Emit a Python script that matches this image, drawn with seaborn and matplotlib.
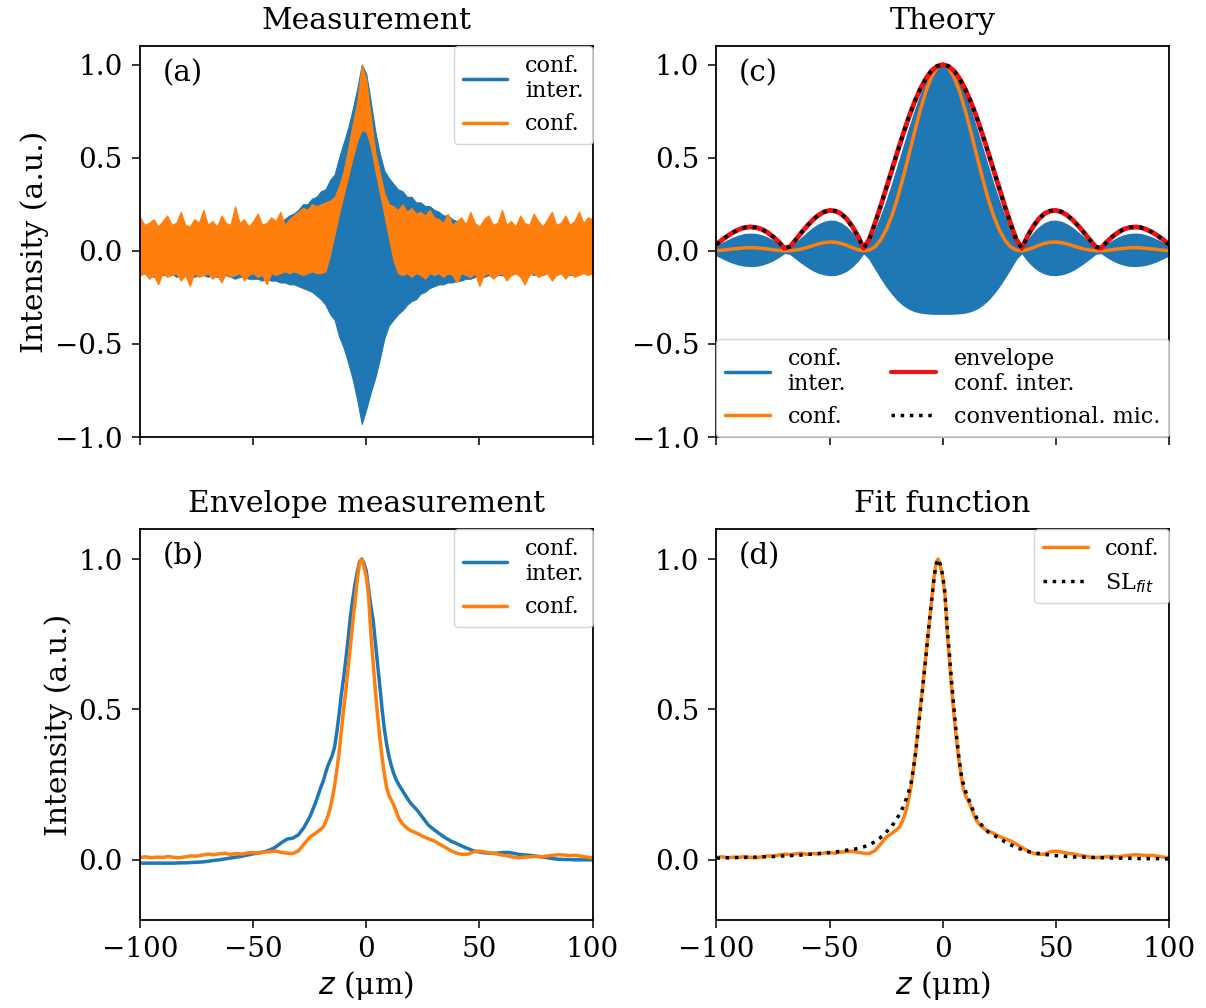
import numpy as np
import matplotlib
matplotlib.use("Agg")
import matplotlib.pyplot as plt
from matplotlib.lines import Line2D
import seaborn as sns

# ---------------- data ----------------
# (a) raw measurement: lower/upper edges of the densely oscillating signals, sampled every 2 um
z_meas = np.arange(-100, 100.1, 2)

conf_meas_upper = [
    0.18, 0.14, 0.15, 0.17, 0.13, 0.16, 0.19, 0.14, 0.15, 0.21, 0.14, 0.13, 0.17, 0.15, 0.22, 0.14, 0.16, 0.13,
    0.19, 0.15, 0.14, 0.24, 0.15, 0.17, 0.13, 0.16, 0.20, 0.14, 0.15, 0.18, 0.16, 0.21, 0.14, 0.17, 0.19,
    0.21, 0.23, 0.22, 0.25, 0.24, 0.25, 0.26, 0.27, 0.29, 0.35, 0.43, 0.55, 0.68, 0.80, 1.00, 0.92, 0.72, 0.53,
    0.42, 0.31, 0.25, 0.24, 0.22, 0.25, 0.21, 0.23, 0.20, 0.21, 0.19, 0.22, 0.18,
    0.17, 0.15, 0.20, 0.14, 0.16, 0.18, 0.14, 0.21, 0.15, 0.13, 0.17, 0.19, 0.14, 0.15, 0.22, 0.14, 0.16, 0.13,
    0.19, 0.15, 0.14, 0.20, 0.16, 0.13, 0.17, 0.21, 0.14, 0.15, 0.19, 0.14, 0.16, 0.21, 0.15, 0.18, 0.17,
]
conf_meas_lower = [
    -0.13, -0.12, -0.15, -0.13, -0.18, -0.12, -0.14, -0.13, -0.12, -0.16, -0.13, -0.19, -0.12, -0.14, -0.13,
    -0.12, -0.15, -0.13, -0.17, -0.12, -0.14, -0.13, -0.12, -0.16, -0.13, -0.12, -0.14, -0.13, -0.18, -0.12,
    -0.13, -0.12, -0.11, -0.12, -0.11,
    -0.12, -0.13, -0.12, -0.11, -0.12, -0.12, -0.11, -0.02, 0.09, 0.20, 0.30, 0.40, 0.50, 0.59, 0.65, 0.64,
    0.56, 0.43, 0.31, 0.19, 0.07, -0.05, -0.12, -0.13, -0.12, -0.14, -0.12, -0.13, -0.15, -0.12, -0.13,
    -0.12, -0.14, -0.12, -0.13, -0.17, -0.12, -0.13, -0.14, -0.12, -0.19, -0.13, -0.12, -0.15, -0.13, -0.12,
    -0.16, -0.13, -0.12, -0.14, -0.18, -0.13, -0.12, -0.14, -0.13, -0.12, -0.16, -0.13, -0.12, -0.15, -0.12,
    -0.14, -0.13, -0.12, -0.13, -0.12,
]
inter_meas_upper = [
    0.12, 0.11, 0.12, 0.13, 0.11, 0.12, 0.12, 0.11, 0.13, 0.12, 0.11, 0.12, 0.12, 0.13, 0.11, 0.12, 0.12, 0.11,
    0.12, 0.13, 0.12, 0.11, 0.12, 0.12, 0.13, 0.12, 0.13, 0.14, 0.13, 0.14,
    0.15, 0.16, 0.17, 0.19, 0.20, 0.22, 0.25, 0.25, 0.28, 0.29, 0.32, 0.33, 0.38, 0.41, 0.50, 0.58, 0.66, 0.76,
    0.87, 1.00, 0.95, 0.80, 0.64, 0.52, 0.43, 0.39, 0.36, 0.33, 0.32, 0.29, 0.29, 0.26, 0.26, 0.24, 0.24, 0.22,
    0.21, 0.19, 0.19, 0.17, 0.16,
    0.15, 0.15, 0.14, 0.14, 0.13, 0.13, 0.12, 0.13, 0.12, 0.12, 0.11, 0.12, 0.13, 0.12, 0.11, 0.12, 0.12, 0.13,
    0.12, 0.11, 0.12, 0.12, 0.13, 0.12, 0.11, 0.12, 0.12, 0.11, 0.12, 0.12,
]
inter_meas_lower = [
    -0.13, -0.12, -0.13, -0.14, -0.12, -0.13, -0.13, -0.12, -0.14, -0.13, -0.13, -0.12, -0.14, -0.13, -0.13,
    -0.14, -0.13, -0.14, -0.14, -0.13, -0.14, -0.15, -0.14, -0.14, -0.15,
    -0.15, -0.15, -0.16, -0.15, -0.16, -0.16, -0.17, -0.17, -0.18, -0.18, -0.19, -0.20, -0.21, -0.22, -0.24,
    -0.26, -0.29, -0.34, -0.37, -0.46, -0.52, -0.60, -0.69, -0.80, -0.93, -0.85, -0.76, -0.68, -0.58, -0.47,
    -0.40, -0.37, -0.34, -0.32, -0.29, -0.27, -0.26, -0.23, -0.22, -0.20, -0.19, -0.18, -0.18, -0.17, -0.17,
    -0.16, -0.16, -0.15, -0.15, -0.14, -0.14,
    -0.14, -0.13, -0.14, -0.13, -0.13, -0.14, -0.13, -0.12, -0.13, -0.13, -0.12, -0.13, -0.12, -0.13, -0.12,
    -0.12, -0.13, -0.12, -0.12, -0.13, -0.12, -0.12, -0.11, -0.12, -0.12,
]

# (b), (d) envelopes: 2.5 um steps in the tails, 1 um steps around the focus
z_env = np.r_[np.arange(-100, -21, 2.5), np.arange(-20, 20.5, 1), np.arange(22.5, 100.1, 2.5)]

inter_env = [
    -0.011, -0.011, -0.011, -0.011, -0.011, -0.011, -0.011, -0.010, -0.010, -0.009, -0.008, -0.007, -0.005,
    -0.002, 0.000, 0.003, 0.006, 0.009, 0.012, 0.016, 0.020, 0.023, 0.027, 0.033, 0.043, 0.057, 0.069, 0.072,
    0.083, 0.108, 0.142, 0.188,
    0.243, 0.262, 0.288, 0.312, 0.330, 0.348, 0.375, 0.425, 0.485, 0.550, 0.605, 0.668, 0.735, 0.810, 0.865,
    0.915, 0.955, 0.990, 1.000, 0.985, 0.960, 0.900, 0.845, 0.800, 0.725, 0.650, 0.578, 0.500, 0.435, 0.385,
    0.345, 0.315, 0.290, 0.270, 0.255, 0.242, 0.230, 0.218, 0.206, 0.195, 0.185,
    0.165, 0.140, 0.115, 0.100, 0.086, 0.073, 0.062, 0.054, 0.045, 0.037, 0.030, 0.026, 0.023, 0.022, 0.022,
    0.024, 0.025, 0.022, 0.018, 0.016, 0.015, 0.012, 0.010, 0.007, 0.004, 0.002, 0.001, 0.001, 0.000, 0.000,
    0.000, 0.000,
]
conf_env = [
    0.008, 0.010, 0.007, 0.009, 0.008, 0.011, 0.008, 0.007, 0.010, 0.013, 0.012, 0.016, 0.019, 0.017, 0.020,
    0.022, 0.018, 0.021, 0.019, 0.023, 0.024, 0.022, 0.026, 0.027, 0.029, 0.025, 0.022, 0.021, 0.030, 0.052,
    0.075, 0.088,
    0.102, 0.110, 0.125, 0.145, 0.170, 0.205, 0.245, 0.300, 0.356, 0.430, 0.500, 0.565, 0.640, 0.710, 0.785,
    0.855, 0.930, 0.985, 1.000, 0.975, 0.940, 0.880, 0.755, 0.660, 0.565, 0.480, 0.405, 0.340, 0.285, 0.240,
    0.215, 0.200, 0.185, 0.165, 0.145, 0.130, 0.120, 0.112, 0.106, 0.100, 0.096,
    0.088, 0.078, 0.070, 0.063, 0.052, 0.041, 0.030, 0.022, 0.018, 0.019, 0.027, 0.029, 0.026, 0.022, 0.020,
    0.016, 0.013, 0.009, 0.007, 0.009, 0.010, 0.012, 0.010, 0.013, 0.015, 0.017, 0.016, 0.014, 0.015, 0.012,
    0.009, 0.006,
]
sl_fit = [
    0.006, 0.006, 0.007, 0.007, 0.008, 0.008, 0.009, 0.009, 0.010, 0.010, 0.011, 0.012, 0.013, 0.014, 0.015,
    0.016, 0.018, 0.019, 0.021, 0.022, 0.024, 0.026, 0.029, 0.032, 0.034, 0.038, 0.043, 0.050, 0.060, 0.074,
    0.092, 0.112,
    0.140, 0.153, 0.168, 0.185, 0.205, 0.228, 0.255, 0.300, 0.355, 0.420, 0.490, 0.560, 0.635, 0.710, 0.785,
    0.855, 0.925, 0.980, 1.000, 0.980, 0.945, 0.885, 0.770, 0.680, 0.585, 0.500, 0.420, 0.350, 0.292, 0.255,
    0.230, 0.210, 0.192, 0.172, 0.155, 0.140, 0.128, 0.118, 0.108, 0.100, 0.093,
    0.082, 0.072, 0.060, 0.050, 0.041, 0.034, 0.028, 0.024, 0.021, 0.018, 0.016, 0.014, 0.013, 0.011, 0.010,
    0.009, 0.009, 0.008, 0.008, 0.007, 0.007, 0.006, 0.006, 0.005, 0.005, 0.005, 0.004, 0.004, 0.004, 0.004,
    0.003, 0.003,
]

# (c) theory, sampled every 2.5 um
z_theory = np.arange(-100, 100.1, 2.5)

theory_envelope = [
    0.034, 0.059, 0.081, 0.100, 0.115, 0.125, 0.128, 0.125, 0.116, 0.099, 0.076, 0.048, 0.014, 0.022, 0.059,
    0.097, 0.133, 0.165, 0.191, 0.209, 0.217, 0.214, 0.200, 0.172, 0.131, 0.079, 0.014, 0.061, 0.146, 0.238,
    0.335, 0.433, 0.532, 0.627, 0.717, 0.798, 0.867, 0.924, 0.966, 0.991,
    1.000,
    0.991, 0.966, 0.924, 0.867, 0.798, 0.717, 0.627, 0.532, 0.433, 0.335, 0.238, 0.146, 0.061, 0.014, 0.079,
    0.131, 0.172, 0.200, 0.214, 0.217, 0.209, 0.191, 0.165, 0.133, 0.097, 0.059, 0.022, 0.014, 0.048, 0.076,
    0.099, 0.116, 0.125, 0.128, 0.125, 0.115, 0.100, 0.081, 0.059, 0.034,
]
theory_conf = [
    0.001, 0.003, 0.007, 0.010, 0.013, 0.016, 0.017, 0.016, 0.013, 0.010, 0.006, 0.002, 0.000, 0.001, 0.004,
    0.009, 0.018, 0.027, 0.037, 0.044, 0.047, 0.046, 0.040, 0.030, 0.017, 0.006, 0.000, 0.004, 0.021, 0.057,
    0.112, 0.188, 0.283, 0.394, 0.514, 0.636, 0.752, 0.854, 0.933, 0.983,
    1.000,
    0.983, 0.933, 0.854, 0.752, 0.636, 0.514, 0.394, 0.283, 0.188, 0.112, 0.057, 0.021, 0.004, 0.000, 0.006,
    0.017, 0.030, 0.040, 0.046, 0.047, 0.044, 0.037, 0.027, 0.018, 0.009, 0.004, 0.001, 0.000, 0.002, 0.006,
    0.010, 0.013, 0.016, 0.017, 0.016, 0.013, 0.010, 0.007, 0.003, 0.001,
]
theory_inter_upper = [
    0.023, 0.040, 0.056, 0.070, 0.081, 0.089, 0.091, 0.089, 0.082, 0.070, 0.053, 0.033, 0.010, 0.015, 0.041,
    0.068, 0.095, 0.120, 0.140, 0.154, 0.161, 0.159, 0.147, 0.125, 0.093, 0.055, 0.010, 0.042, 0.105, 0.178,
    0.261, 0.352, 0.450, 0.550, 0.650, 0.744, 0.829, 0.901, 0.955, 0.989,
    1.000,
    0.989, 0.955, 0.901, 0.829, 0.744, 0.650, 0.550, 0.450, 0.352, 0.261, 0.178, 0.105, 0.042, 0.010, 0.055,
    0.093, 0.125, 0.147, 0.159, 0.161, 0.154, 0.140, 0.120, 0.095, 0.068, 0.041, 0.015, 0.010, 0.033, 0.053,
    0.070, 0.082, 0.089, 0.091, 0.089, 0.081, 0.070, 0.056, 0.040, 0.023,
]
theory_inter_lower = [
    -0.023, -0.038, -0.052, -0.064, -0.073, -0.078, -0.080, -0.079, -0.073, -0.063, -0.049, -0.031, -0.010,
    -0.015, -0.039, -0.062, -0.083, -0.102, -0.116, -0.125, -0.129, -0.128, -0.120, -0.105, -0.082, -0.051,
    -0.010, -0.040, -0.091, -0.140, -0.187, -0.227, -0.262, -0.289, -0.309, -0.322, -0.330, -0.334, -0.336,
    -0.337,
    -0.337,
    -0.337, -0.336, -0.334, -0.330, -0.322, -0.309, -0.289, -0.262, -0.227, -0.187, -0.140, -0.091, -0.040,
    -0.010, -0.051, -0.082, -0.105, -0.120, -0.128, -0.129, -0.125, -0.116, -0.102, -0.083, -0.062, -0.039,
    -0.015, -0.010, -0.031, -0.049, -0.063, -0.073, -0.079, -0.080, -0.078, -0.073, -0.064, -0.052, -0.038,
    -0.023,
]

x_ticks = [-100, -50, 0, 50, 100]

# ---------------- style ----------------
sns.set_theme(style="ticks")
plt.rcParams.update({
    "font.family": ["DejaVu Serif"],
    "mathtext.fontset": "dejavusans",
    "text.color": "black",
    "axes.labelcolor": "black",
    "axes.edgecolor": "black",
    "axes.linewidth": 1.3,
    "xtick.color": "black",
    "ytick.color": "black",
    "xtick.major.size": 5.5,
    "ytick.major.size": 5.5,
    "xtick.major.width": 1.1,
    "ytick.major.width": 1.1,
    "xtick.major.pad": 6,
    "ytick.major.pad": 7,
    "xtick.labelsize": 20,
    "ytick.labelsize": 20,
    "axes.labelsize": 21.5,
    "axes.titlesize": 21.5,
    "legend.fontsize": 16,
})

BLUE = "#1f77b4"
ORANGE = "#ff7f0e"
RED = "#f01010"

fig, axes = plt.subplots(2, 2, figsize=(12.06, 10.08), dpi=100)
fig.subplots_adjust(left=0.1161, right=0.9693, top=0.9544, bottom=0.0873,
                    wspace=0.274, hspace=0.235)
ax_a, ax_c = axes[0]
ax_b, ax_d = axes[1]

legend_kw = dict(frameon=True, fancybox=True, framealpha=0.8, edgecolor="0.8",
                 borderaxespad=0.0, handlelength=2.0)

# (a) measurement
ax_a.fill_between(z_meas, inter_meas_lower, inter_meas_upper, color=BLUE, lw=0.8, edgecolor=BLUE)
ax_a.fill_between(z_meas, conf_meas_lower, conf_meas_upper, color=ORANGE, lw=0.8, edgecolor=ORANGE)
ax_a.legend(handles=[Line2D([], [], color=BLUE, lw=2.5, label="conf.\ninter."),
                     Line2D([], [], color=ORANGE, lw=2.5, label="conf.")],
            loc="upper right", **legend_kw)
ax_a.set_title("Measurement", pad=12)
ax_a.set_ylabel("Intensity (a.u.)")

# (c) theory
ax_c.fill_between(z_theory, theory_inter_lower, theory_inter_upper, color=BLUE, lw=1.2, edgecolor=BLUE)
sns.lineplot(x=z_theory, y=theory_conf, ax=ax_c, color=ORANGE, lw=2.5, estimator=None, legend=False)
sns.lineplot(x=z_theory, y=theory_envelope, ax=ax_c, color=RED, lw=3.5, estimator=None, legend=False)
sns.lineplot(x=z_theory, y=theory_envelope, ax=ax_c, color="black", lw=2.8, ls=":",
             estimator=None, legend=False)
ax_c.legend(handles=[Line2D([], [], color=BLUE, lw=2.5, label="conf.\ninter."),
                     Line2D([], [], color=ORANGE, lw=2.5, label="conf."),
                     Line2D([], [], color=RED, lw=3, label="envelope\nconf. inter."),
                     Line2D([], [], color="black", lw=2.5, ls=":", label="conventional. mic.")],
            ncol=2, loc="lower left", bbox_to_anchor=(0, 0, 1, 1), mode="expand", **legend_kw)
ax_c.set_title("Theory", pad=12)

# (b) envelopes of the measurement
sns.lineplot(x=z_env, y=inter_env, ax=ax_b, color=BLUE, lw=2.5, estimator=None, legend=False)
sns.lineplot(x=z_env, y=conf_env, ax=ax_b, color=ORANGE, lw=2.5, estimator=None, legend=False)
ax_b.legend(handles=[Line2D([], [], color=BLUE, lw=2.5, label="conf.\ninter."),
                     Line2D([], [], color=ORANGE, lw=2.5, label="conf.")],
            loc="upper right", **legend_kw)
ax_b.set_title("Envelope measurement", pad=12)
ax_b.set_ylabel("Intensity (a.u.)")

# (d) fit
sns.lineplot(x=z_env, y=conf_env, ax=ax_d, color=ORANGE, lw=2.5, estimator=None, legend=False)
sns.lineplot(x=z_env, y=sl_fit, ax=ax_d, color="black", lw=2.5, ls=":", estimator=None, legend=False)
ax_d.legend(handles=[Line2D([], [], color=ORANGE, lw=2.5, label="conf."),
                     Line2D([], [], color="black", lw=2.5, ls=":", label="SL$_{fit}$")],
            loc="upper right", **legend_kw)
ax_d.set_title("Fit function", pad=12)

for ax, lab in zip([ax_a, ax_b, ax_c, ax_d], ["(a)", "(b)", "(c)", "(d)"]):
    ax.set_xlim(-100, 100)
    ax.set_xticks(x_ticks)
    for side in ["top", "right", "left", "bottom"]:
        ax.spines[side].set_visible(True)
    ax.text(0.05, 0.93, lab, transform=ax.transAxes, fontsize=21, va="center", ha="left")

for ax in (ax_a, ax_c):
    ax.set_ylim(-1.0, 1.1)
    ax.set_yticks([-1.0, -0.5, 0.0, 0.5, 1.0])
    ax.tick_params(labelbottom=False)
    ax.set_xlabel("")

for ax in (ax_b, ax_d):
    ax.set_ylim(-0.2, 1.1)
    ax.set_yticks([0.0, 0.5, 1.0])
    ax.set_xlabel("$z$ (μm)")

ax_c.set_ylabel("")
ax_d.set_ylabel("")

fig.savefig("out.png", dpi=100)
